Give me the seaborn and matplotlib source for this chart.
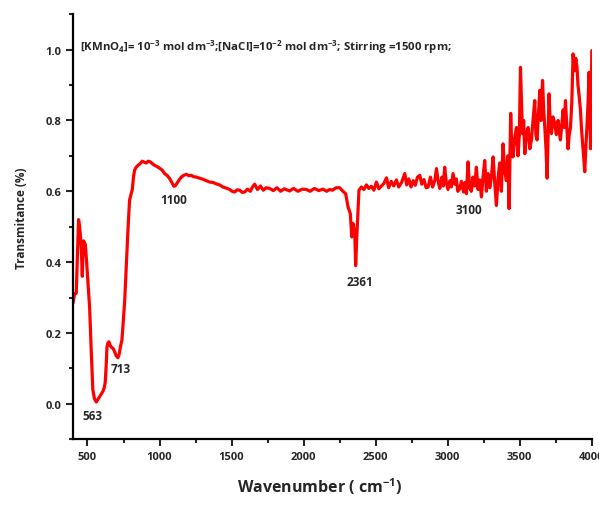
import matplotlib
matplotlib.use("Agg")
import matplotlib.pyplot as plt
import seaborn as sns
from matplotlib.ticker import MultipleLocator

# FTIR spectrum
wavenumber = [
    400, 410, 422, 430, 438, 444, 450, 457, 464, 468, 473, 479, 485, 494, 505,
    515, 526, 537, 548, 561, 572, 584, 596, 607, 616, 623, 630, 635, 642, 649,
    657, 665, 672, 680, 690, 700, 711, 720, 728, 739, 748, 758, 766, 774, 782,
    792, 801, 811, 819, 827, 838, 850, 865, 880, 894, 908, 922, 936, 950, 966,
    983, 1000, 1018, 1035, 1052, 1070, 1085, 1100, 1110, 1121, 1136, 1151, 1168,
    1186, 1203, 1220, 1238, 1255, 1278, 1301, 1325, 1348, 1371, 1394, 1417,
    1440, 1463, 1487, 1504, 1521, 1538, 1556, 1574, 1591, 1610, 1630, 1645,
    1660, 1680, 1700, 1720, 1740, 1764, 1790, 1815, 1840, 1865, 1903, 1930,
    1960, 1990, 2019, 2045, 2075, 2105, 2134, 2160, 2181, 2200, 2225, 2250,
    2273, 2292, 2308, 2324, 2334, 2343, 2355, 2361, 2370, 2384, 2401, 2418,
    2436, 2452, 2470, 2488, 2505, 2522, 2540, 2557, 2575, 2590, 2608, 2625,
    2644, 2660, 2680, 2702, 2715, 2730, 2745, 2760, 2775, 2790, 2806, 2820,
    2835, 2850, 2864, 2880, 2895, 2910, 2922, 2935, 2945, 2960, 2970, 2979,
    2990, 3002, 3015, 3025, 3037, 3050, 3060, 3070, 3083, 3095, 3110, 3120,
    3130, 3141, 3152, 3164, 3175, 3187, 3199, 3210, 3222, 3234, 3245, 3257,
    3268, 3280, 3292, 3303, 3315, 3327, 3338, 3350, 3361, 3372, 3384, 3395,
    3407, 3417, 3426, 3437, 3445, 3453, 3465, 3477, 3488, 3497, 3505, 3512,
    3519, 3527, 3535, 3546, 3558, 3570, 3581, 3592, 3604, 3612, 3620, 3630,
    3639, 3648, 3658, 3666, 3674, 3682, 3690, 3697, 3703, 3711, 3720, 3731,
    3743, 3754, 3766, 3774, 3782, 3792, 3801, 3809, 3817, 3826, 3835, 3843,
    3852, 3861, 3870, 3879, 3889, 3897, 3904, 3912, 3921, 3928, 3935, 3943,
    3951, 3958, 3966, 3974, 3981, 3986, 3991, 3996, 4000,
]
transmittance = [
    0.285, 0.310, 0.312, 0.420, 0.520, 0.505, 0.480, 0.440, 0.360, 0.420, 0.460,
    0.455, 0.450, 0.400, 0.330, 0.270, 0.150, 0.040, 0.015, 0.005, 0.012, 0.020,
    0.028, 0.035, 0.045, 0.060, 0.110, 0.160, 0.172, 0.175, 0.165, 0.160, 0.158,
    0.155, 0.145, 0.135, 0.130, 0.140, 0.160, 0.180, 0.230, 0.290, 0.360, 0.430,
    0.500, 0.575, 0.590, 0.605, 0.640, 0.660, 0.668, 0.673, 0.678, 0.685, 0.682,
    0.680, 0.685, 0.683, 0.678, 0.673, 0.670, 0.665, 0.660, 0.650, 0.645, 0.636,
    0.625, 0.614, 0.616, 0.623, 0.632, 0.640, 0.645, 0.648, 0.644, 0.645, 0.641,
    0.640, 0.637, 0.634, 0.630, 0.626, 0.625, 0.621, 0.618, 0.612, 0.609, 0.605,
    0.600, 0.598, 0.604, 0.603, 0.597, 0.598, 0.606, 0.600, 0.612, 0.620, 0.605,
    0.615, 0.603, 0.610, 0.608, 0.602, 0.610, 0.600, 0.607, 0.601, 0.608, 0.600,
    0.606, 0.605, 0.600, 0.608, 0.602, 0.606, 0.600, 0.605, 0.603, 0.610, 0.610,
    0.600, 0.593, 0.556, 0.537, 0.471, 0.509, 0.480, 0.390, 0.480, 0.603, 0.612,
    0.605, 0.618, 0.608, 0.614, 0.603, 0.626, 0.607, 0.615, 0.622, 0.638, 0.610,
    0.628, 0.615, 0.632, 0.612, 0.625, 0.650, 0.618, 0.635, 0.612, 0.630, 0.617,
    0.640, 0.645, 0.620, 0.633, 0.610, 0.612, 0.640, 0.612, 0.630, 0.664, 0.625,
    0.608, 0.640, 0.615, 0.668, 0.625, 0.605, 0.630, 0.612, 0.650, 0.620, 0.635,
    0.600, 0.607, 0.628, 0.598, 0.625, 0.593, 0.683, 0.610, 0.600, 0.640, 0.615,
    0.668, 0.605, 0.632, 0.584, 0.640, 0.687, 0.600, 0.650, 0.610, 0.640, 0.697,
    0.620, 0.560, 0.640, 0.680, 0.600, 0.734, 0.660, 0.630, 0.700, 0.551, 0.820,
    0.720, 0.697, 0.750, 0.780, 0.700, 0.760, 0.950, 0.850, 0.763, 0.800, 0.706,
    0.760, 0.780, 0.720, 0.745, 0.800, 0.856, 0.760, 0.745, 0.820, 0.885, 0.800,
    0.913, 0.830, 0.780, 0.720, 0.637, 0.760, 0.875, 0.800, 0.763, 0.810, 0.790,
    0.760, 0.800, 0.770, 0.745, 0.790, 0.830, 0.780, 0.856, 0.790, 0.720, 0.760,
    0.780, 0.850, 0.988, 0.940, 0.975, 0.950, 0.900, 0.870, 0.830, 0.780, 0.740,
    0.700, 0.655, 0.720, 0.780, 0.850, 0.936, 0.820, 0.720, 0.850, 0.997,
]

# peak labels: text, x, y
peak_labels = ["563", "713", "1100", "2361", "3100"]
peak_x = [535, 730, 1101, 2389, 3149]
peak_y = [-0.034, 0.099, 0.577, 0.346, 0.549]

sns.set_style("ticks")
plt.rcParams["font.family"] = ["Open Sans", "DejaVu Sans"]
plt.rcParams["font.weight"] = "bold"
plt.rcParams["mathtext.fontset"] = "custom"
plt.rcParams["mathtext.rm"] = "Open Sans:bold"
plt.rcParams["mathtext.default"] = "rm"

fig = plt.figure(figsize=(5.99, 5.06), dpi=100)
ax = fig.add_axes([0.122, 0.130, 0.866, 0.840])

sns.lineplot(x=wavenumber, y=transmittance, color="#ff0000", linewidth=2.3, ax=ax)

ax.set_xlim(400, 4000)
ax.set_ylim(-0.1, 1.1)
ax.xaxis.set_major_locator(MultipleLocator(500))
ax.xaxis.set_minor_locator(MultipleLocator(250))
ax.yaxis.set_major_locator(MultipleLocator(0.2))
ax.yaxis.set_minor_locator(MultipleLocator(0.1))
ax.yaxis.set_major_formatter(matplotlib.ticker.FormatStrFormatter("%.1f"))

sns.despine(ax=ax)
for s in ["left", "bottom"]:
    ax.spines[s].set_linewidth(1.6)
    ax.spines[s].set_color("black")
ax.tick_params(which="major", length=5, width=1.5, labelsize=8, direction="out")
ax.tick_params(which="minor", length=3, width=1.5, direction="out")
for lab in ax.get_xticklabels() + ax.get_yticklabels():
    lab.set_fontweight("bold")

ax.set_xlabel("Wavenumber ( cm$^{-1}$)", fontsize=11.5, fontweight="bold")
ax.set_ylabel("Transmitance (%)", fontsize=8.5, fontweight="bold")
ax.xaxis.set_label_coords(0.476, -0.086)
ax.yaxis.set_label_coords(-0.086, 0.522)

ax.text(445, 1.011,
        "[KMnO$_4$]= 10$^{-3}$ mol dm$^{-3}$;[NaCl]=10$^{-2}$ mol dm$^{-3}$; Stirring =1500 rpm;",
        ha="left", va="center", fontsize=8.2, fontweight="bold")

for t, x, y in zip(peak_labels, peak_x, peak_y):
    ax.text(x, y, t, ha="center", va="center", fontsize=8.5, fontweight="bold")

fig.savefig("out.png", dpi=100)
